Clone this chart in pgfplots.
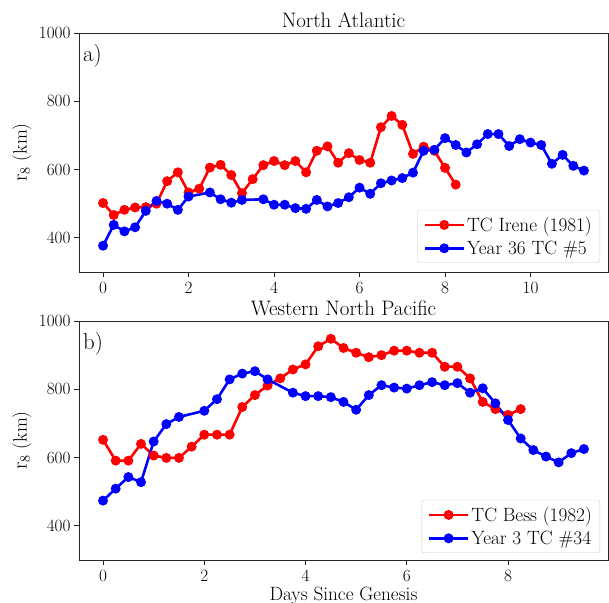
\documentclass[border=0pt]{standalone}
\usepackage{pgfplots}
\pgfplotsset{compat=1.18}
\usetikzlibrary{calc}
\pgfplotsset{legend image code/.code={\draw[mark repeat=2,mark phase=2,#1] plot coordinates {(0bp,0bp) (19.5bp,0bp) (39bp,0bp)};}}
\begin{document}
\begin{tikzpicture}
\path[use as bounding box] (0bp,0bp) rectangle (609bp,603bp);
\pgfplotsset{
  myax/.style={
    scale only axis, width=529bp, height=239bp,
    ymin=300, ymax=1000, ytick={400,600,800,1000},
    /pgf/number format/1000 sep={},
    tick align=outside, tick pos=left,
    major tick length=5bp,
    every tick/.style={black!85, line width=0.9bp},
    axis line style={black!85, line width=0.9bp},
    tick label style={font=\fontsize{19}{21}\selectfont},
    xticklabel style={inner sep=2bp},
    xticklabel shift=3bp,
    label style={font=\fontsize{19.3}{22}\selectfont},
    title style={font=\fontsize{21}{24}\selectfont, at={(axis description cs:0.5,1)}, anchor=base, yshift=-0.5bp, inner sep=0pt},
    ylabel={$\mathrm{r}_8$ (km)},
    ylabel style={at={(axis description cs:-0.108,0.5)}, anchor=center},
    legend cell align=left,
    legend style={font=\fontsize{19.3}{22}\selectfont, draw=black!20, fill=white, fill opacity=0.8, text opacity=1, rounded corners=2.5bp, inner xsep=6bp, inner ysep=5bp, row sep=4bp,
      /tikz/every even column/.append style={column sep=10bp}},
    every axis plot/.append style={line width=2.6bp, mark=*, mark size=3.6bp},
  }
}
\begin{axis}[myax, at={(79bp,331bp)}, anchor=south west,
  xmin=-0.5625, xmax=11.8125, xtick={0,2,4,6,8,10},
  title={North Atlantic},
  legend style={at={(rel axis cs:1,0)}, anchor=south east, xshift=-8bp, yshift=9bp}]
\addplot[red, mark options={fill=red, draw=red}] coordinates {
(0,502)(0.25,467)(0.5,482)(0.75,489)(1,490)(1.25,500)(1.5,566)(1.75,592)
(2,533)(2.25,544)(2.5,606)(2.75,614)(3,584)(3.25,531)(3.5,572)(3.75,613)
(4,625)(4.25,613)(4.5,625)(4.75,592)(5,655)(5.25,668)(5.5,620)(5.75,648)
(6,628)(6.25,620)(6.5,724)(6.75,757)(7,731)(7.25,646)(7.5,667)(7.75,655)
(8,605)(8.25,556)};
\addlegendentry{TC Irene (1981)}
\addplot[blue, mark options={fill=blue, draw=blue}] coordinates {
(0,377)(0.25,438)(0.5,419)(0.75,431)(1,479)(1.25,508)(1.5,500)(1.75,482)
(2,521)(2.5,533)(2.75,513)(3,503)(3.25,511)(3.75,513)
(4,497)(4.25,497)(4.5,487)(4.75,485)(5,511)(5.25,492)(5.5,502)(5.75,519)
(6,547)(6.25,529)(6.5,560)(6.75,568)(7,575)(7.25,591)(7.5,655)(7.75,658)
(8,692)(8.25,672)(8.5,650)(8.75,674)(9,704)(9.25,704)(9.5,669)(9.75,689)
(10,679)(10.25,672)(10.5,617)(10.75,643)(11,611)(11.25,597)};
\addlegendentry{Year 36 TC \#5}
\node[anchor=north west, inner sep=0pt, font=\fontsize{23}{26}\selectfont] at ($(rel axis cs:0,1)+(4bp,-11bp)$) {a)};
\end{axis}
\begin{axis}[myax, at={(79bp,43bp)}, anchor=south west,
  xmin=-0.475, xmax=9.975, xtick={0,2,4,6,8},
  title={Western North Pacific},
  xlabel={Days Since Genesis},
  xlabel style={at={(axis description cs:0.5,-0.17)}, anchor=base, inner sep=0pt},
  legend style={at={(rel axis cs:1,0)}, anchor=south east, xshift=-8bp, yshift=7bp}]
\addplot[red, mark options={fill=red, draw=red}] coordinates {
(0,652)(0.25,591)(0.5,591)(0.75,640)(1,606)(1.25,599)(1.5,599)(1.75,632)
(2,667)(2.25,667)(2.5,667)(2.75,748)(3,783)(3.25,811)(3.5,832)(3.75,858)
(4,873)(4.25,926)(4.5,948)(4.75,921)(5,907)(5.25,894)(5.5,900)(5.75,913)
(6,913)(6.25,907)(6.5,907)(6.75,866)(7,866)(7.25,832)(7.5,763)(7.75,742)
(8,725)(8.25,742)};
\addlegendentry{TC Bess (1982)}
\addplot[blue, mark options={fill=blue, draw=blue}] coordinates {
(0,474)(0.25,509)(0.5,543)(0.75,528)(1,647)(1.25,698)(1.5,719)
(2,737)(2.25,771)(2.5,829)(2.75,846)(3,853)(3.25,829)(3.75,790)
(4,780)(4.25,780)(4.5,777)(4.75,763)(5,740)(5.25,783)(5.5,812)(5.75,805)
(6,802)(6.25,812)(6.5,821)(6.75,812)(7,818)(7.25,790)(7.5,803)(7.75,759)
(8,710)(8.25,656)(8.5,622)(8.75,603)(9,586)(9.25,613)(9.5,625)};
\addlegendentry{Year 3 TC \#34}
\node[anchor=north west, inner sep=0pt, font=\fontsize{23}{26}\selectfont] at ($(rel axis cs:0,1)+(4bp,-11bp)$) {b)};
\end{axis}
\end{tikzpicture}
\end{document}
